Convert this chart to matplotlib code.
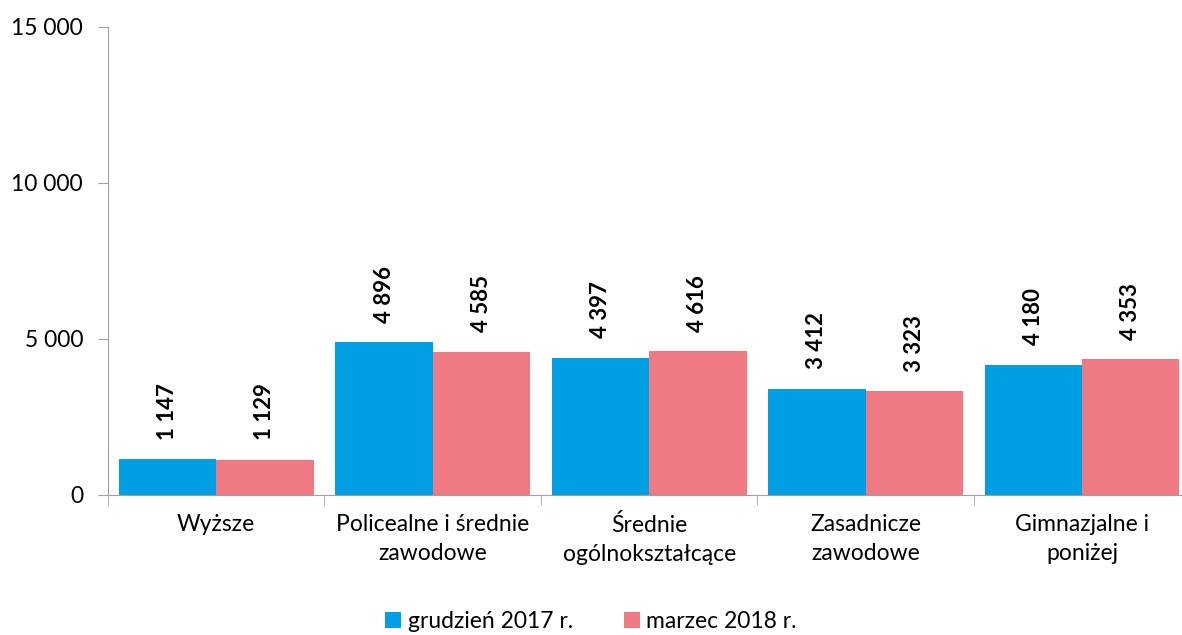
import matplotlib.pyplot as plt
import numpy as np

categories = ['Wyższe', 'Policealne i średnie\nzawodowe', 'Średnie\nogólnokształcące',
              'Zasadnicze\nzawodowe', 'Gimnazjalne i\nponiżej']
dec2017 = [1147, 4896, 4397, 3412, 4180]
mar2018 = [1129, 4585, 4616, 3323, 4353]
series_names = ['grudzień 2017 r.', 'marzec 2018 r.']

plt.rcParams['font.family'] = ['Lato', 'DejaVu Sans']

fig = plt.figure(figsize=(11.82, 6.35), dpi=100)
ax = fig.add_axes([0.0914, 0.2205, 0.9156, 0.737])

BW = 0.45
x = np.arange(len(categories))
b1 = ax.bar(x - BW / 2, dec2017, width=BW, color='#009FE3', label=series_names[0])
b2 = ax.bar(x + BW / 2, mar2018, width=BW, color='#F07A84', label=series_names[1])

def fmt(v):
    return f'{v:,}'.replace(',', ' ')

for bars in (b1, b2):
    for r in bars:
        ax.annotate(fmt(int(r.get_height())), (r.get_x() + r.get_width() / 2, r.get_height()),
                    xytext=(0, 14), textcoords='offset points', rotation=90,
                    ha='center', va='bottom', fontsize=16, fontweight='bold')

ax.set_xlim(-0.5, len(categories) - 0.5)
ax.set_ylim(0, 15000)
ax.set_yticks([0, 5000, 10000, 15000])
ax.set_yticklabels([fmt(v) for v in [0, 5000, 10000, 15000]], fontsize=16.5)

ax.set_xticks(x)
ax.set_xticklabels(categories, fontsize=16.5, linespacing=1.45)
ax.tick_params(axis='x', length=0, pad=14)
ax.set_xticks(np.arange(-0.5, len(categories)), minor=True)
ax.tick_params(axis='x', which='minor', length=7, color='#a0a0a0')
ax.tick_params(axis='y', length=7, color='#a0a0a0', pad=11)

for s in ['top', 'right']:
    ax.spines[s].set_visible(False)
for s in ['left', 'bottom']:
    ax.spines[s].set_color('#a0a0a0')

fig.legend(loc='lower center', bbox_to_anchor=(0.5, -0.028), ncol=2, frameon=False,
           fontsize=16.5, handlelength=0.7, handleheight=0.7, handletextpad=0.3,
           columnspacing=2.2)

fig.savefig('out.png', dpi=100)
